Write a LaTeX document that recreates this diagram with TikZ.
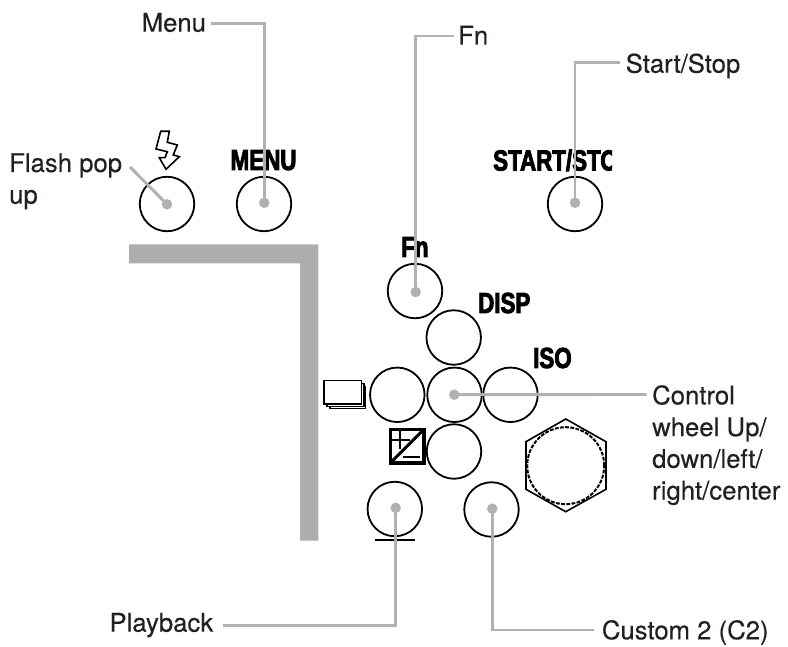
\documentclass[tikz,border=0pt]{standalone}
\usepackage{fontspec}
\setmainfont[FakeBold=0.25]{TeX Gyre Heros}
\newfontfamily\heavyfont[FakeBold=3,FakeStretch=0.77]{Liberation Sans Bold}
\definecolor{leadgray}{HTML}{B1B0B3}
\definecolor{bargray}{HTML}{AEACAE}
\definecolor{inktext}{HTML}{231F20}
\tikzset{
  lbl/.style={anchor=base west,inner sep=0pt,text=inktext,font=\fontsize{25.7}{31.7}\selectfont,align=left},
  keylbl/.style={anchor=base west,inner sep=0pt,text=black,font=\heavyfont\fontsize{29}{29}\selectfont},
  btn/.style={circle,draw=black,line width=1.8pt,fill=none,minimum size=54.5pt,inner sep=0pt},
  dotm/.style={circle,fill=leadgray,minimum size=10.5pt,inner sep=0pt},
  leader/.style={draw=leadgray,line width=2.9pt},
  icon/.style={draw=black,line join=miter}
}
\begin{document}
\begin{tikzpicture}[x=1pt,y=-1pt]
\useasboundingbox (0,0) rectangle (788,647);
% housing bar
\fill[bargray] (129,244.3) -- (318.3,244.3) -- (318.3,540.7) -- (300,540.7) -- (300,263.3) -- (129,263.3) -- cycle;
% key captions
\node[keylbl] (kmenu) at (230.5,170) {MENU};
\begin{scope}
\clip (480,140) rectangle (612,180);
\node[keylbl] (kstart) at (493,170.5) {START/STOP};
\end{scope}
\node[keylbl] (kfn) at (401,257) {Fn};
\node[keylbl] (kdisp) at (478,313) {DISP};
\node[keylbl] (kiso) at (533,368) {ISO};
% flash icon
\draw[icon,line width=1.6pt] (160.7,131.3) -- (169.3,131.3) -- (167.3,142.3) -- (177.3,145) -- (173.3,155) -- (179.3,156.7) -- (166,169.3) -- (159.3,157.7) -- (165,157.7) -- (167.3,151.7) -- (156,149) -- cycle;
% buttons
\node[btn] (bflash) at (167,204) {};
\node[btn] (bmenu) at (264,204) {};
\node[btn] (bstart) at (575,204) {};
\node[btn] (bfn) at (415,291) {};
\node[btn] (bdisp) at (453.7,337.5) {};
\node[btn] (bleft) at (397.3,394.8) {};
\node[btn] (bcenter) at (454.5,394.8) {};
\node[btn] (bright) at (510.5,394.8) {};
\node[btn] (bdown) at (454,451.5) {};
\node[btn] (bplay) at (394.8,509) {};
\node[btn] (bctwo) at (491.5,509.5) {};
\draw[black,line width=1.5pt] (375,540) -- (415,540);
% stack icon
\draw[icon,fill=white,line width=1.5pt] (330,386.5) rectangle (365.5,408.5);
\draw[icon,fill=white,line width=1.5pt] (327,383.5) rectangle (364,406.5);
\draw[icon,fill=white,line width=1.5pt] (324,380.7) rectangle (361.7,404);
% exposure icon
\draw[icon,line width=3.2pt] (390.3,429.3) rectangle (424,463);
\draw[icon,line width=3pt] (390.3,463) -- (424,429.3);
\draw[icon,line width=2.4pt] (392,440) -- (410,440);
\draw[icon,line width=2.4pt] (400,431) -- (400,449);
\draw[icon,line width=2.4pt] (402.5,456.7) -- (420,456.7);
% dial
\draw[black,line width=1.6pt] (565.7,419) -- (606,441.7) -- (606,489.3) -- (565.7,511.7) -- (526,489.3) -- (526,441.7) -- cycle;
\node[circle,draw=black,line width=2pt,dash pattern=on 3.8pt off 1.4pt,minimum size=77pt,inner sep=0pt] (dial) at (565.7,465.7) {};
% leader dots
\node[dotm] (dflash) at (167,204.3) {};
\node[dotm] (dmenu) at (264.2,202.8) {};
\node[dotm] (dstart) at (575,202.8) {};
\node[dotm] (dfn) at (415.7,292) {};
\node[dotm] (dcenter) at (454.3,394.7) {};
\node[dotm] (dplay) at (395.7,507.8) {};
\node[dotm] (dctwo) at (492.3,508.7) {};
% labels
\node[lbl] (lmenu) at (141.5,31.7) {Menu};
\node[lbl] (lfn) at (458,44.5) {Fn};
\node[lbl] (lstart) at (625.5,72.7) {Start/Stop};
\node[lbl] (lflash) at (9,203.7) {Flash pop\\up};
\node[lbl] (lcontrol) at (652,499.5) {Control\\wheel Up/\\down/left/\\right/center};
\node[lbl] (lplay) at (109.3,631.7) {Playback};
\node[lbl] (lctwo) at (601.7,639.3) {Custom 2 (C2)};
% free ends of leaders
\coordinate (emenu) at (211,23.3);
\coordinate (efn) at (454,36);
\coordinate (estart) at (620,62.3);
\coordinate (eflash) at (130,167);
\coordinate (econtrol) at (646.7,394.5);
\coordinate (eplay) at (223.3,625.7);
\coordinate (ectwo) at (594,630);
% leaders
\draw[leader] (emenu) -| (dmenu.center);
\draw[leader] (efn) -| (dfn.center);
\draw[leader] (estart) -| (dstart.center);
\draw[leader] (eflash) -- (dflash.center);
\draw[leader] (econtrol) -- (dcenter.center);
\draw[leader] (eplay) -| (dplay.center);
\draw[leader] (ectwo) -| (dctwo.center);
\end{tikzpicture}
\end{document}
